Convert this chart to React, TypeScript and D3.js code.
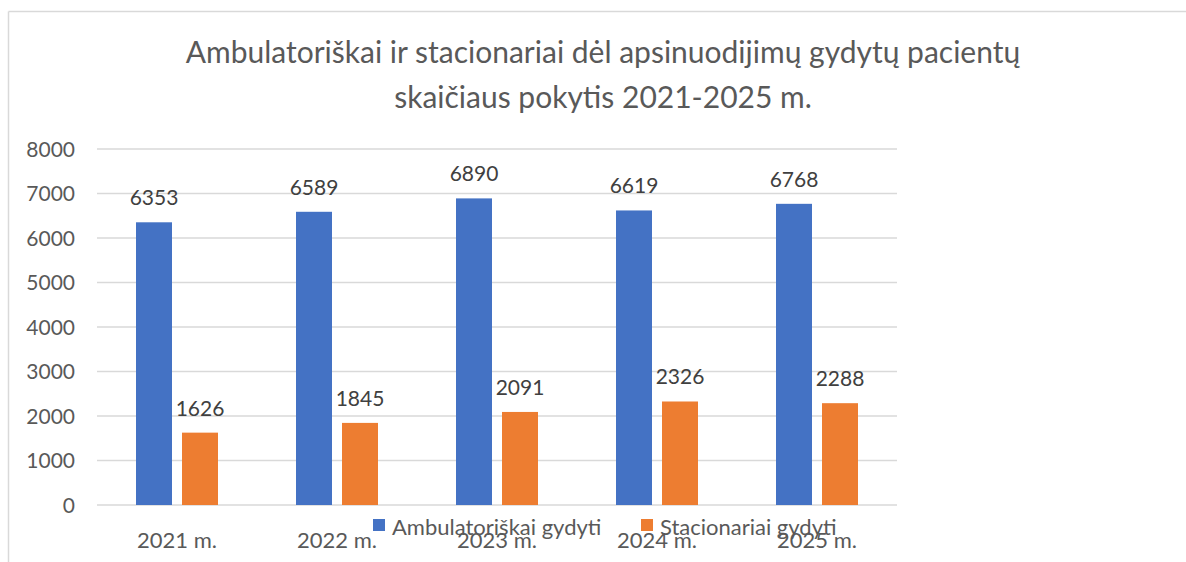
import React from "react";
import * as d3 from "d3";

const categories = ["2021 m.", "2022 m.", "2023 m.", "2024 m.", "2025 m."];
const seriesNames = ["Ambulatoriškai gydyti", "Stacionariai gydyti"];
const ambulatoriskai = [6353, 6589, 6890, 6619, 6768];
const stacionariai = [1626, 1845, 2091, 2326, 2288];
const yTicks = [0, 1000, 2000, 3000, 4000, 5000, 6000, 7000, 8000];
const titleLines = [
  "Ambulatoriškai ir stacionariai dėl apsinuodijimų gydytų pacientų",
  "skaičiaus pokytis 2021-2025 m.",
];
const colors = ["#4472C4", "#ED7D31"];

export default function App() {
  const W = 1186;
  const H = 562;
  const left = 97;
  const right = 897;
  const top = 149;
  const bottom = 505;
  const font = "Lato, 'Open Sans', sans-serif";

  const x0 = d3.scaleBand<string>().domain(categories).range([left, right]).paddingInner(0).paddingOuter(0);
  const y = d3.scaleLinear().domain([0, 8000]).range([bottom, top]);
  const series = [ambulatoriskai, stacionariai];
  const barW = 36;
  const gap = 10;

  return (
    <svg width={W} height={H} style={{ position: "absolute", left: 0, top: 0 }}>
      <rect x={0} y={0} width={W} height={H} fill="#fff" />
      <line x1={8.5} y1={11.5} x2={W} y2={11.5} stroke="#d9d9d9" strokeWidth={1.5} />
      <line x1={8.5} y1={11.5} x2={8.5} y2={H} stroke="#d9d9d9" strokeWidth={1.5} />
      {titleLines.map((t, i) => (
        <text
          key={i}
          x={603}
          y={63 + i * 45}
          textAnchor="middle"
          fontFamily={font}
          fontSize={30}
          fill="#595959"
        >
          {t}
        </text>
      ))}
      {yTicks.map((t) => (
        <g key={t}>
          <line x1={left} x2={right} y1={y(t)} y2={y(t)} stroke="#d9d9d9" strokeWidth={1.5} />
          <text
            x={75}
            y={y(t)}
            dy="0.36em"
            textAnchor="end"
            fontFamily={font}
            fontSize={21}
            fill="#595959"
          >
            {t}
          </text>
        </g>
      ))}
      {categories.map((c, ci) => {
        const cx = (x0(c) as number) + x0.bandwidth() / 2;
        return (
          <g key={c}>
            {series.map((s, si) => {
              const bx = si === 0 ? cx - gap / 2 - barW : cx + gap / 2;
              const v = s[ci];
              return (
                <g key={si}>
                  <rect x={bx} y={y(v)} width={barW} height={bottom - y(v)} fill={colors[si]} />
                  <text
                    x={bx + barW / 2}
                    y={y(v) - 17}
                    textAnchor="middle"
                    fontFamily={font}
                    fontSize={21}
                    fill="#404040"
                  >
                    {v}
                  </text>
                </g>
              );
            })}
            <text
              x={cx}
              y={548}
              textAnchor="middle"
              fontFamily={font}
              fontSize={22}
              fill="#595959"
            >
              {c}
            </text>
          </g>
        );
      })}
      {seriesNames.map((n, i) => {
        const lx = i === 0 ? 373 : 641;
        return (
          <g key={n}>
            <rect x={lx} y={519} width={12} height={12} fill={colors[i]} />
            <text x={lx + 19} y={535} fontFamily={font} fontSize={22} fill="#595959">
              {n}
            </text>
          </g>
        );
      })}
    </svg>
  );
}
